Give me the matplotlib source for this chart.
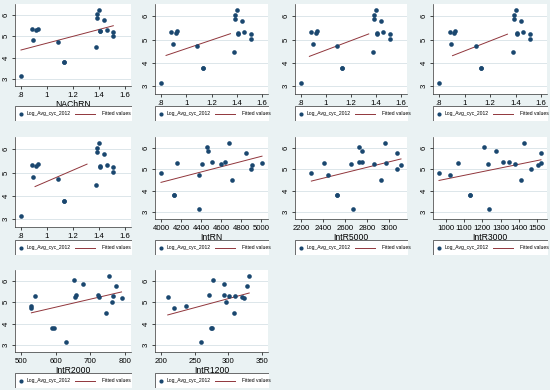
import numpy as np
import matplotlib.pyplot as plt
from matplotlib.patches import Rectangle

# dependent variable (same for every panel)
y = [3.15, 3.78, 3.78, 4.48, 4.74, 4.82, 5.01, 5.22, 5.25, 5.27, 5.29, 5.31, 5.34, 5.36, 5.78, 5.87, 6.07, 6.25]

nachrn = [.80, 1.13, 1.13, 1.378, 1.088, .896, 1.51, 1.51, 1.41, 1.41, .917, 1.46, .883, .928, 1.44, 1.388, 1.388, 1.40]
intrn = [4375, 4125, 4125, 4708, 4372, 3995, 4896, 4903, 4406, 4601, 4153, 5007, 4632, 4507, 4851, 4469, 4458, 4677]
intr5000 = [2677, 2523, 2523, 2926, 2446, 2294, 3077, 3109, 2860, 2657, 2409, 2971, 2723, 2751, 3069, 2751, 2726, 2963]
intr3000 = [1237, 1132, 1132, 1414, 1025, 964, 1464, 1507, 1230, 1379, 1066, 1521, 1346, 1316, 1521, 1273, 1209, 1429]
intr2000 = [630, 589, 595, 744, 530, 530, 762, 790, 655, 725, 540, 764, 660, 721, 775, 680, 654, 755]
intr1200 = [259, 274, 276, 309, 220, 237, 297, 324, 321, 210, 301, 310, 293, 272, 327, 293, 277, 331]

xs = [nachrn, nachrn, nachrn, nachrn, nachrn, intrn, intr5000, intr3000, intr2000, intr1200]
xtitles = ['NAChRN', '', '', '', '', 'IntRN', 'IntR5000', 'IntR3000', 'IntR2000', 'IntR1200']

# fitted line end points (x0, y0, x1, y1)
fits = [(.80, 4.36, 1.51, 5.50),
        (.84, 4.32, 1.35, 5.25),
        (.867, 4.28, 1.342, 5.24),
        (.906, 4.31, 1.337, 5.23),
        (.908, 4.40, 1.308, 5.36),
        (3995, 4.39, 5007, 5.62),
        (2294, 4.45, 3109, 5.49),
        (964, 4.48, 1521, 5.45),
        (530, 4.51, 790, 5.49),
        (210, 4.41, 331, 5.44)]

nach_ticks = [.8, 1, 1.2, 1.4, 1.6]
nach_lbls = ['.8', '1', '1.2', '1.4', '1.6']
xticks = [nach_ticks] * 5 + [list(range(4000, 5001, 200)), list(range(2200, 3001, 200)),
                             list(range(1000, 1501, 100)), list(range(500, 801, 100)),
                             list(range(200, 351, 50))]
xticklabels = [nach_lbls] * 5 + [[str(t) for t in xt] for xt in xticks[5:]]

bg = '#EAF2F3'
navy = '#1A476F'
maroon = '#90353B'
W, H = 550, 390
FONT = 'Liberation Sans'

fig = plt.figure(figsize=(5.5, 3.9), dpi=100, facecolor=bg)

def px_axes(l, t, r, b):
    return fig.add_axes([l / W, 1 - b / H, (r - l) / W, (b - t) / H])

lefts = [15, 155, 295, 433]
rights = [131, 268, 407, 547]
tops = [4, 137, 270]
leg_tops = [106, 240, 373]

for i in range(10):
    row, col = i // 4, i % 4
    l, r, t = lefts[col], rights[col], tops[row]
    b = t + (82 if xtitles[i] else 90)
    ax = px_axes(l, t, r, b)
    ax.set_facecolor('white')

    x = xs[i]
    lo = min(min(x), xticks[i][0])
    hi = max(max(x), xticks[i][-1])
    pad = (hi - lo) * 6 / ((r - l) - 12)
    ax.set_xlim(lo - pad, hi + pad)
    ax.set_ylim(2.67, 6.52)

    ax.grid(True, axis='y', color='#DCE6EA', lw=0.7)
    ax.set_axisbelow(True)

    ax.scatter(x, y, s=11, color=navy, zorder=3, linewidths=0)
    f = fits[i]
    ax.plot([f[0], f[2]], [f[1], f[3]], color=maroon, lw=0.7, zorder=2)

    ax.set_xticks(xticks[i])
    ax.set_xticklabels(xticklabels[i])
    ax.set_yticks([3, 4, 5, 6])
    ax.set_yticklabels(['3', '4', '5', '6'], rotation=90, va='center')
    ax.tick_params(labelsize=5.6, length=2.5, width=0.5, pad=1.5, colors='black')
    for lab in ax.get_xticklabels() + ax.get_yticklabels():
        lab.set_family(FONT)
    for s in ['top', 'right']:
        ax.spines[s].set_visible(False)
    for s in ['left', 'bottom']:
        ax.spines[s].set_linewidth(0.5)
        ax.spines[s].set_color('#333333')
    if xtitles[i]:
        ax.set_xlabel(xtitles[i], fontsize=6.2, family=FONT, labelpad=1)

    # legend box drawn in pixel units
    lt = leg_tops[row]
    lw_ = r - l + 1
    lg = px_axes(l, lt, l + lw_, lt + 15)
    lg.set_xlim(0, lw_)
    lg.set_ylim(0, 15)
    lg.axis('off')
    lg.add_patch(Rectangle((0.3, 0.3), lw_ - 0.6, 14.4, facecolor='white',
                           edgecolor='#333333', lw=0.5))
    lg.plot([5.5], [7.5], 'o', color=navy, ms=3, mew=0)
    lg.text(12, 7.5, 'Log_Avg_cyc_2012', fontsize=3.6, family=FONT, va='center')
    lg.plot([60, 80], [7.5, 7.5], color=maroon, lw=0.7)
    lg.text(87, 7.5, 'Fitted values', fontsize=3.6, family=FONT, va='center')

fig.savefig('out.png', dpi=100, facecolor=bg)
